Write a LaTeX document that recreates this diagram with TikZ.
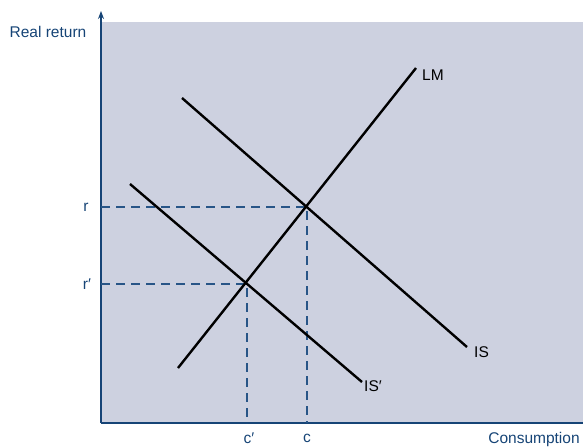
\documentclass[tikz,border=0pt]{standalone}
\usepackage{fontspec}
\setmainfont{Liberation Sans}
\usetikzlibrary{arrows.meta}
\definecolor{bgfill}{RGB}{205,209,224}
\definecolor{axisblue}{RGB}{22,68,118}
\definecolor{dashblue}{RGB}{40,85,135}
\tikzset{
  curve/.style={black, line width=2.4pt},
  guide/.style={dashblue, line width=1.3pt, dash pattern=on 9pt off 6pt},
  axisline/.style={axisblue, line width=1.4pt},
  lbl/.style={inner sep=0pt, font=\fontsize{15.5}{18}\selectfont},
  axlbl/.style={lbl, text=axisblue}
}
\begin{document}
\begin{tikzpicture}[x=1pt,y=-1pt]
\useasboundingbox (0,0) rectangle (583,447);
\fill[bgfill] (101,22) rectangle (583,423);
% axes
\coordinate (O) at (101,423);
\coordinate (ytop) at (101,11);
\coordinate (xend) at (583,423);
\draw[axisline, -{Stealth[length=8pt,width=6pt]}] (O) -- (ytop);
\draw[axisline] (O) -- (xend);
% intersection points
\coordinate (E) at (307,207);
\coordinate (Ep) at (247,284);
\coordinate (ry) at (101,207);
\coordinate (rpy) at (101,284);
\coordinate (cx) at (307,423);
\coordinate (cpx) at (247,423);
\draw[guide] (ry) -- (E) -- (cx);
\draw[guide] (rpy) -- (Ep) -- (cpx);
% curves
\coordinate (LMa) at (178,368);
\coordinate (LMb) at (416,68);
\coordinate (ISa) at (182,98);
\coordinate (ISb) at (467,347);
\coordinate (ISpa) at (130,184);
\coordinate (ISpb) at (362,382);
\draw[curve] (LMa) -- (LMb);
\draw[curve] (ISa) -- (ISb);
\draw[curve] (ISpa) -- (ISpb);
% labels
\node[lbl, anchor=west] (lLM) at (422,75) {LM};
\node[lbl, anchor=west] (lIS) at (474,352) {IS};
\node[lbl, anchor=west] (lISp) at (364,386) {IS′};
\node[axlbl] (lyr) at (48,32) {Real return};
\node[axlbl] (lr) at (86,207) {r};
\node[axlbl] (lrp) at (87,284) {r′};
\node[axlbl] (lcp) at (249,438) {c′};
\node[axlbl] (lc) at (307,438) {c};
\node[axlbl] (lx) at (534,439) {Consumption};
\end{tikzpicture}
\end{document}
